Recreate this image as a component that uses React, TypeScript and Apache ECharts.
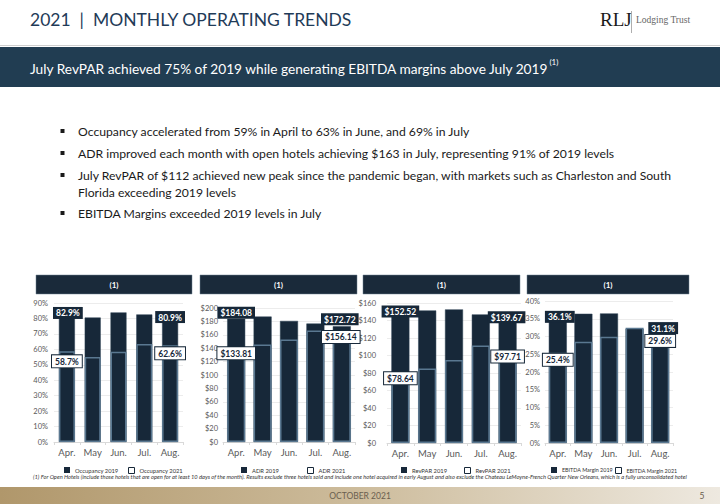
import React, { useEffect, useRef } from "react";
import * as echarts from "echarts";

const months = ["Apr.", "May", "Jun.", "Jul.", "Aug."];
const occupancy2019 = [82.9, 80.6, 83.9, 82.6, 80.9];
const occupancy2021 = [58.7, 55.0, 58.4, 63.4, 62.6];
const adr2019 = [184.08, 187.2, 180.7, 176.8, 172.72];
const adr2021 = [133.81, 145.6, 153.0, 166.4, 156.14];
const revpar2019 = [152.52, 151.5, 152.7, 147.0, 139.67];
const revpar2021 = [78.64, 85.1, 95.0, 111.5, 97.71];
const ebitda2019 = [36.1, 36.4, 36.5, 32.2, 31.1];
const ebitda2021 = [25.4, 28.5, 29.9, 32.5, 29.6];

const seriesNames = [
  ["Occupancy 2019", "Occupancy 2021"],
  ["ADR 2019", "ADR 2021"],
  ["RevPAR 2019", "RevPAR 2021"],
  ["EBITDA Margin 2019", "EBITDA Margin 2021"],
];
const axisMax = [90, 200, 160, 40];
const axisInterval = [10, 20, 20, 5];

const titleText = "2021  |  MONTHLY OPERATING TRENDS";
const bannerText = "July RevPAR achieved 75% of 2019 while generating EBITDA margins above July 2019";
const bannerNote = "(1)";
const bullets = [
  "Occupancy accelerated from 59% in April to 63% in June, and 69% in July",
  "ADR improved each month with open hotels achieving $163 in July, representing 91% of 2019 levels",
  "July RevPAR of $112 achieved new peak since the pandemic began, with markets such as Charleston and South",
  "Florida exceeding 2019 levels",
  "EBITDA Margins exceeded 2019 levels in July",
];
const headerText = "(1)";
const footnote =
  "(1) For Open Hotels (include those hotels that are open for at least 10 days of the month). Results exclude three hotels sold and include one hotel acquired in early August and also exclude the Chateau LeMoyne-French Quarter New Orleans, which is a fully unconsolidated hotel";
const footerText = "OCTOBER 2021";
const pageNumber = "5";

const NAVY = "#172839";
const OUTLINE = "#5a7891";
const FONT = "Lato, 'Open Sans', sans-serif";

export default function App() {
  const ref = useRef<HTMLDivElement>(null);

  useEffect(() => {
    if (!ref.current) return;
    const chart = echarts.init(ref.current, undefined, { renderer: "svg" });

    const values = [
      [occupancy2019, occupancy2021],
      [adr2019, adr2021],
      [revpar2019, revpar2021],
      [ebitda2019, ebitda2021],
    ];
    const fmt = [
      (v: number) => v.toFixed(1) + "%",
      (v: number) => "$" + v.toFixed(2),
      (v: number) => "$" + v.toFixed(2),
      (v: number) => v.toFixed(1) + "%",
    ];
    const axisFmt = ["{value}%", "${value}", "${value}", "{value}%"];
    const grids = [
      { left: 54, width: 129, top: 303, height: 139 },
      { left: 223, width: 132, top: 308, height: 134 },
      { left: 387, width: 134, top: 303, height: 140 },
      { left: 545, width: 128, top: 301, height: 142 },
    ];
    const labelMargins = [6, 5, 11, 5];
    const barWidths = [16, 18, 18, 18];
    const offs = [
      { o19: [[1, 5], [0, 6]], o21: [[0, 16], [0, 14]] },
      { o19: [[0, 0], [-2, -1]], o21: [[0, 7], [-1, 5.5]] },
      { o19: [[0, 8], [-1, 2.5]], o21: [[0, 10], [0, 5]] },
      { o19: [[2, 8], [3, 1.5]], o21: [[0, 13], [0, 9]] },
    ];

    const xAxis: any[] = [];
    const yAxis: any[] = [];
    const series: any[] = [];
    const legends: any[] = [];
    const legendX = [
      [59, 123],
      [236, 302],
      [396, 459],
      [546, 610],
    ];
    const legendFont = [5.8, 5.8, 5.8, 5.4];

    grids.forEach((g, k) => {
      xAxis.push({
        type: "category",
        gridIndex: k,
        data: months,
        axisLine: { lineStyle: { color: "#d9d9d9" } },
        axisTick: { show: true, length: 3, lineStyle: { color: "#d9d9d9" } },
        axisLabel: { color: "#595959", fontSize: 9.5, fontFamily: FONT, margin: 5 },
      });
      yAxis.push({
        type: "value",
        gridIndex: k,
        min: 0,
        max: axisMax[k],
        interval: axisInterval[k],
        axisLine: { show: false },
        axisTick: { show: false },
        splitLine: { lineStyle: { color: "#ececec", width: 1 } },
        axisLabel: { color: "#595959", fontSize: 7.5, fontFamily: FONT, margin: labelMargins[k], formatter: axisFmt[k] },
      });
      [0, 1].forEach((s) => {
        const is21 = s === 1;
        const o = is21 ? offs[k].o21 : offs[k].o19;
        series.push({
          type: "bar",
          name: seriesNames[k][s],
          xAxisIndex: k,
          yAxisIndex: k,
          barWidth: barWidths[k],
          barGap: "-100%",
          z: is21 ? 3 : 2,
          itemStyle: is21
            ? { color: NAVY, borderColor: OUTLINE, borderWidth: 1.5 }
            : { color: NAVY, borderColor: "#2c4054", borderWidth: 0.5 },
          label: {
            show: false,
            position: "top",
            distance: 0,
            formatter: (p: any) => fmt[k](p.value),
            fontSize: 8.5,
            fontWeight: "bold",
            fontFamily: FONT,
            padding: [2, 3, 1, 3],
            color: is21 ? NAVY : "#ffffff",
            backgroundColor: is21 ? "#ffffff" : NAVY,
            borderColor: NAVY,
            borderWidth: is21 ? 1 : 0,
          },
          data: values[k][s].map((v, i) => {
            if (i === 0 || i === 4) {
              return { value: v, label: { show: true, offset: o[i === 0 ? 0 : 1] } };
            }
            return { value: v };
          }),
        });
        legends.push({
          left: legendX[k][s],
          top: 462,
          itemWidth: 6,
          itemHeight: 6,
          itemGap: 4,
          selectedMode: false,
          textStyle: { fontSize: legendFont[k], color: "#333", fontFamily: FONT },
          data: [
            {
              name: seriesNames[k][s],
              icon: "rect",
              itemStyle: is21
                ? { color: "#ffffff", borderColor: NAVY, borderWidth: 1 }
                : { color: NAVY, borderWidth: 0 },
            },
          ],
        });
      });
    });

    const headers = [
      { x: 36, w: 156 },
      { x: 200, w: 157 },
      { x: 363, w: 157 },
      { x: 527, w: 162 },
    ];

    const graphic: any[] = [
      {
        type: "text",
        left: 30,
        top: 10,
        style: { text: titleText, fill: "#1f3b58", fontSize: 17.5, fontFamily: FONT },
      },
      {
        type: "text",
        left: 600,
        top: 10,
        style: { text: "RLJ", fill: "#1a1a1a", fontSize: 19, fontFamily: "'Liberation Serif', 'DejaVu Serif', serif" },
      },
      { type: "rect", shape: { x: 631, y: 11, width: 0.8, height: 22 }, style: { fill: "#9a9a9a" } },
      {
        type: "text",
        left: 636,
        top: 15,
        style: { text: "Lodging Trust", fill: "#666", fontSize: 9.5, fontFamily: "'Liberation Serif', 'DejaVu Serif', serif" },
      },
      { type: "rect", shape: { x: 0, y: 45, width: 720, height: 1 }, style: { fill: "#cfcfcf" } },
      { type: "rect", shape: { x: 0, y: 47, width: 720, height: 40 }, style: { fill: "#213d52" } },
      {
        type: "text",
        left: 30,
        top: 58,
        style: {
          text: "{a|" + bannerText + "}{s|" + bannerNote + "}",
          rich: {
            a: { fontSize: 13.7, fill: "#ffffff", fontFamily: FONT, lineHeight: 20 },
            s: { fontSize: 8, fill: "#ffffff", fontFamily: FONT, verticalAlign: "top", lineHeight: 20 },
          },
        },
      },
      { type: "rect", shape: { x: 0, y: 487, width: 720, height: 17 }, style: {
        fill: new echarts.graphic.LinearGradient(0, 0, 1, 0, [
          { offset: 0, color: "#b0976b" },
          { offset: 0.5, color: "#cdbc9c" },
          { offset: 1, color: "#eee9e0" },
        ]),
      } },
      {
        type: "text",
        x: 360,
        y: 495.5,
        style: { text: footerText, fill: "#6a604f", fontSize: 8.5, fontFamily: FONT, align: "center", verticalAlign: "middle" },
      },
      {
        type: "text",
        x: 702,
        y: 495.5,
        style: { text: pageNumber, fill: "#6a604f", fontSize: 8.5, fontFamily: FONT, align: "center", verticalAlign: "middle" },
      },
      {
        type: "text",
        x: 33,
        y: 476,
        style: { text: footnote, fill: "#333", fontSize: 5.75, fontStyle: "italic", fontFamily: FONT, verticalAlign: "middle" },
      },
    ];

    const bulletY = [131, 153, 175, 192, 213];
    bullets.forEach((b, i) => {
      if (i !== 3) {
        graphic.push({ type: "rect", shape: { x: 60.5, y: bulletY[i] - 2, width: 4, height: 4 }, style: { fill: "#1a1a1a" } });
      }
      graphic.push({
        type: "text",
        x: 78,
        y: bulletY[i],
        style: { text: b, fill: "#1a1a1a", fontSize: 12.2, fontFamily: FONT, verticalAlign: "middle" },
      });
    });

    headers.forEach((h) => {
      graphic.push({
        type: "rect",
        shape: { x: h.x, y: 275, width: h.w, height: 19 },
        style: { fill: "#1a2a3a", stroke: "#6f8090", lineWidth: 0.5 },
      });
      graphic.push({
        type: "text",
        x: h.x + h.w / 2,
        y: 284.5,
        style: { text: headerText, fill: "#ffffff", fontSize: 8, fontWeight: "bold", fontFamily: FONT, align: "center", verticalAlign: "middle" },
      });
    });

    chart.setOption({
      animation: false,
      backgroundColor: "#ffffff",
      textStyle: { fontFamily: FONT },
      grid: grids.map((g) => ({ ...g, containLabel: false })),
      xAxis,
      yAxis,
      series,
      legend: legends,
      graphic,
    });

    return () => chart.dispose();
  }, []);

  return (
    <div
      ref={ref}
      style={{ position: "fixed", left: 0, top: 0, width: 720, height: 504, background: "#fff" }}
    />
  );
}
